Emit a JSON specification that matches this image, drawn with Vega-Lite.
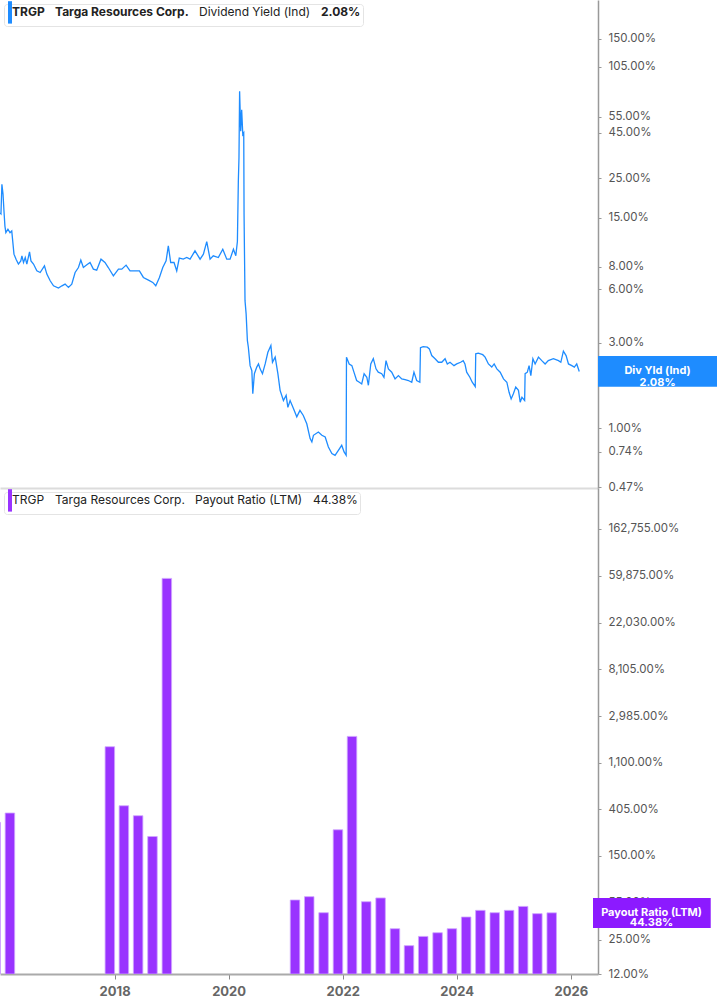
{
  "$schema": "https://vega.github.io/schema/vega-lite/v6.json",
  "background": "white",
  "padding": 0,
  "spacing": 0,
  "bounds": "flush",
  "config": {
    "view": {"stroke": null},
    "font": "Inter",
    "legend": {
      "orient": "top-left",
      "offset": 4,
      "direction": "horizontal",
      "columns": 4,
      "title": null,
      "fillColor": "white",
      "strokeColor": "#e4e4e4",
      "cornerRadius": 3,
      "padding": 2,
      "columnPadding": 4,
      "labelOffset": -6,
      "labelFont": "Inter",
      "labelFontSize": 12,
      "labelColor": "#222222",
      "labelLimit": 600,
      "symbolType": "M-1,-2.8H0V2.8H-1Z",
      "symbolSize": 64,
      "symbolStrokeWidth": 0
    },
    "axisY": {
      "orient": "right",
      "title": null,
      "grid": false,
      "domainColor": "#999999",
      "domainWidth": 1.5,
      "tickSize": 3,
      "tickColor": "#999999",
      "labelPadding": 7,
      "labelFontSize": 11.5,
      "labelColor": "#555555",
      "labelFont": "Inter",
      "labelOverlap": false
    }
  },
  "resolve": {
    "scale": {"x": "independent", "y": "independent", "color": "independent"},
    "axis": {"x": "independent", "y": "independent"},
    "legend": {"color": "independent"}
  },
  "vconcat": [
    {
      "width": 598,
      "height": 488,
      "data": {
        "values": [
          {"date": "2016-01-30", "v": 16.0},
          {"date": "2016-02-05", "v": 15.8},
          {"date": "2016-02-11", "v": 23.1},
          {"date": "2016-02-18", "v": 20.4},
          {"date": "2016-02-24", "v": 16.4},
          {"date": "2016-03-01", "v": 13.5},
          {"date": "2016-03-07", "v": 12.4},
          {"date": "2016-03-20", "v": 12.96},
          {"date": "2016-04-02", "v": 12.4},
          {"date": "2016-04-13", "v": 12.68},
          {"date": "2016-04-19", "v": 11.16},
          {"date": "2016-04-27", "v": 9.41},
          {"date": "2016-05-10", "v": 8.82},
          {"date": "2016-05-25", "v": 8.28},
          {"date": "2016-06-09", "v": 8.63},
          {"date": "2016-06-16", "v": 9.21},
          {"date": "2016-06-26", "v": 8.45},
          {"date": "2016-07-07", "v": 9.01},
          {"date": "2016-07-17", "v": 8.28},
          {"date": "2016-08-03", "v": 9.69},
          {"date": "2016-08-12", "v": 8.63},
          {"date": "2016-08-28", "v": 8.28},
          {"date": "2016-09-18", "v": 7.59},
          {"date": "2016-10-09", "v": 7.43},
          {"date": "2016-11-05", "v": 8.09},
          {"date": "2016-11-20", "v": 7.28},
          {"date": "2016-12-11", "v": 6.68},
          {"date": "2017-01-01", "v": 6.26},
          {"date": "2017-02-01", "v": 6.08},
          {"date": "2017-02-23", "v": 6.26},
          {"date": "2017-03-15", "v": 6.40},
          {"date": "2017-04-05", "v": 6.13},
          {"date": "2017-04-26", "v": 6.40},
          {"date": "2017-05-17", "v": 7.43},
          {"date": "2017-06-07", "v": 7.92},
          {"date": "2017-06-22", "v": 8.71},
          {"date": "2017-07-08", "v": 7.92},
          {"date": "2017-07-30", "v": 8.20},
          {"date": "2017-08-19", "v": 8.45},
          {"date": "2017-09-09", "v": 7.76},
          {"date": "2017-09-30", "v": 7.66},
          {"date": "2017-10-27", "v": 8.82},
          {"date": "2017-11-21", "v": 8.45},
          {"date": "2017-12-12", "v": 7.92},
          {"date": "2018-01-13", "v": 7.12},
          {"date": "2018-02-14", "v": 7.76},
          {"date": "2018-03-07", "v": 7.76},
          {"date": "2018-04-03", "v": 8.17},
          {"date": "2018-04-28", "v": 7.59},
          {"date": "2018-05-30", "v": 7.59},
          {"date": "2018-06-26", "v": 7.59},
          {"date": "2018-07-21", "v": 6.97},
          {"date": "2018-08-22", "v": 6.74},
          {"date": "2018-09-18", "v": 6.54},
          {"date": "2018-10-07", "v": 6.26},
          {"date": "2018-10-30", "v": 6.97},
          {"date": "2018-11-20", "v": 7.92},
          {"date": "2018-12-11", "v": 8.63},
          {"date": "2018-12-25", "v": 10.46},
          {"date": "2019-01-09", "v": 8.45},
          {"date": "2019-01-30", "v": 8.45},
          {"date": "2019-02-16", "v": 7.59},
          {"date": "2019-03-04", "v": 8.94},
          {"date": "2019-03-29", "v": 8.82},
          {"date": "2019-04-20", "v": 9.01},
          {"date": "2019-05-11", "v": 8.82},
          {"date": "2019-06-11", "v": 9.82},
          {"date": "2019-07-13", "v": 8.82},
          {"date": "2019-08-03", "v": 9.41},
          {"date": "2019-08-24", "v": 11.06},
          {"date": "2019-09-14", "v": 8.82},
          {"date": "2019-10-04", "v": 9.21},
          {"date": "2019-11-05", "v": 9.01},
          {"date": "2019-12-03", "v": 10.03},
          {"date": "2019-12-28", "v": 8.82},
          {"date": "2020-01-18", "v": 8.82},
          {"date": "2020-02-08", "v": 10.03},
          {"date": "2020-02-23", "v": 9.21},
          {"date": "2020-03-04", "v": 11.06},
          {"date": "2020-03-10", "v": 24.1},
          {"date": "2020-03-14", "v": 32.5},
          {"date": "2020-03-18", "v": 76.5},
          {"date": "2020-03-25", "v": 45.8},
          {"date": "2020-03-31", "v": 60.4},
          {"date": "2020-04-07", "v": 43.9},
          {"date": "2020-04-13", "v": 44.8},
          {"date": "2020-04-15", "v": 15.7},
          {"date": "2020-04-21", "v": 5.17},
          {"date": "2020-04-28", "v": 4.36},
          {"date": "2020-05-06", "v": 3.09},
          {"date": "2020-05-12", "v": 2.84},
          {"date": "2020-05-23", "v": 2.24},
          {"date": "2020-06-03", "v": 2.10},
          {"date": "2020-06-09", "v": 1.56},
          {"date": "2020-06-19", "v": 2.02},
          {"date": "2020-07-04", "v": 2.20},
          {"date": "2020-07-15", "v": 2.29},
          {"date": "2020-07-25", "v": 2.15},
          {"date": "2020-08-09", "v": 2.02},
          {"date": "2020-08-26", "v": 2.29},
          {"date": "2020-09-12", "v": 2.66},
          {"date": "2020-10-01", "v": 2.90},
          {"date": "2020-10-11", "v": 2.34},
          {"date": "2020-10-28", "v": 2.50},
          {"date": "2020-11-14", "v": 2.02},
          {"date": "2020-11-28", "v": 1.63},
          {"date": "2020-12-19", "v": 1.43},
          {"date": "2021-01-05", "v": 1.53},
          {"date": "2021-01-16", "v": 1.31},
          {"date": "2021-01-30", "v": 1.43},
          {"date": "2021-02-20", "v": 1.29},
          {"date": "2021-03-13", "v": 1.16},
          {"date": "2021-04-02", "v": 1.26},
          {"date": "2021-04-23", "v": 1.18},
          {"date": "2021-05-15", "v": 1.06},
          {"date": "2021-06-05", "v": 0.876},
          {"date": "2021-06-16", "v": 0.839},
          {"date": "2021-06-26", "v": 0.914},
          {"date": "2021-07-27", "v": 0.954},
          {"date": "2021-08-18", "v": 0.914},
          {"date": "2021-09-08", "v": 0.894},
          {"date": "2021-09-28", "v": 0.787},
          {"date": "2021-10-20", "v": 0.723},
          {"date": "2021-11-09", "v": 0.707},
          {"date": "2021-11-30", "v": 0.754},
          {"date": "2021-12-21", "v": 0.804},
          {"date": "2022-01-05", "v": 0.738},
          {"date": "2022-01-18", "v": 0.707},
          {"date": "2022-01-20", "v": 2.50},
          {"date": "2022-02-06", "v": 2.29},
          {"date": "2022-02-23", "v": 2.24},
          {"date": "2022-03-08", "v": 2.06},
          {"date": "2022-03-25", "v": 1.85},
          {"date": "2022-04-11", "v": 1.81},
          {"date": "2022-04-26", "v": 1.77},
          {"date": "2022-05-11", "v": 2.02},
          {"date": "2022-05-28", "v": 1.93},
          {"date": "2022-06-07", "v": 1.74},
          {"date": "2022-06-22", "v": 2.29},
          {"date": "2022-07-08", "v": 2.45},
          {"date": "2022-07-25", "v": 2.15},
          {"date": "2022-08-08", "v": 2.06},
          {"date": "2022-08-30", "v": 2.02},
          {"date": "2022-09-13", "v": 1.93},
          {"date": "2022-09-26", "v": 2.39},
          {"date": "2022-10-11", "v": 2.15},
          {"date": "2022-11-01", "v": 2.06},
          {"date": "2022-11-22", "v": 1.89},
          {"date": "2022-12-13", "v": 1.97},
          {"date": "2023-01-03", "v": 1.89},
          {"date": "2023-01-24", "v": 1.87},
          {"date": "2023-02-14", "v": 1.85},
          {"date": "2023-03-07", "v": 1.81},
          {"date": "2023-03-21", "v": 2.06},
          {"date": "2023-04-07", "v": 1.85},
          {"date": "2023-04-27", "v": 1.81},
          {"date": "2023-05-01", "v": 2.82},
          {"date": "2023-05-18", "v": 2.86},
          {"date": "2023-06-13", "v": 2.84},
          {"date": "2023-06-26", "v": 2.78},
          {"date": "2023-07-11", "v": 2.55},
          {"date": "2023-08-01", "v": 2.45},
          {"date": "2023-08-22", "v": 2.34},
          {"date": "2023-09-12", "v": 2.34},
          {"date": "2023-10-03", "v": 2.45},
          {"date": "2023-10-17", "v": 2.29},
          {"date": "2023-11-03", "v": 2.34},
          {"date": "2023-11-28", "v": 2.24},
          {"date": "2023-12-15", "v": 2.29},
          {"date": "2024-01-09", "v": 2.34},
          {"date": "2024-01-25", "v": 2.39},
          {"date": "2024-02-05", "v": 2.29},
          {"date": "2024-02-16", "v": 2.06},
          {"date": "2024-03-07", "v": 1.93},
          {"date": "2024-03-22", "v": 1.81},
          {"date": "2024-04-10", "v": 1.71},
          {"date": "2024-04-13", "v": 2.61},
          {"date": "2024-04-29", "v": 2.63},
          {"date": "2024-05-27", "v": 2.58},
          {"date": "2024-06-11", "v": 2.50},
          {"date": "2024-07-02", "v": 2.29},
          {"date": "2024-07-23", "v": 2.20},
          {"date": "2024-08-07", "v": 2.29},
          {"date": "2024-08-24", "v": 2.15},
          {"date": "2024-09-14", "v": 2.06},
          {"date": "2024-10-05", "v": 1.89},
          {"date": "2024-10-26", "v": 1.81},
          {"date": "2024-11-09", "v": 1.59},
          {"date": "2024-11-22", "v": 1.46},
          {"date": "2024-12-06", "v": 1.56},
          {"date": "2024-12-21", "v": 1.70},
          {"date": "2025-01-07", "v": 1.63},
          {"date": "2025-01-18", "v": 1.40},
          {"date": "2025-01-29", "v": 1.49},
          {"date": "2025-02-15", "v": 1.43},
          {"date": "2025-02-18", "v": 2.02},
          {"date": "2025-03-04", "v": 2.06},
          {"date": "2025-03-15", "v": 2.24},
          {"date": "2025-03-26", "v": 1.97},
          {"date": "2025-04-08", "v": 2.45},
          {"date": "2025-04-22", "v": 2.29},
          {"date": "2025-05-13", "v": 2.50},
          {"date": "2025-06-03", "v": 2.39},
          {"date": "2025-06-24", "v": 2.29},
          {"date": "2025-07-14", "v": 2.39},
          {"date": "2025-08-15", "v": 2.45},
          {"date": "2025-09-16", "v": 2.39},
          {"date": "2025-10-01", "v": 2.34},
          {"date": "2025-10-17", "v": 2.70},
          {"date": "2025-11-03", "v": 2.55},
          {"date": "2025-11-18", "v": 2.29},
          {"date": "2025-12-09", "v": 2.24},
          {"date": "2025-12-25", "v": 2.20},
          {"date": "2026-01-09", "v": 2.29},
          {"date": "2026-01-25", "v": 2.08}
        ]
      },
      "layer": [
        {
          "mark": {"type": "line", "strokeWidth": 1.3, "clip": true},
          "encoding": {
            "x": {
              "field": "date",
              "type": "temporal",
              "scale": {
                "type": "utc",
                "domain": [
                  {"year": 2016, "month": 1, "date": 30, "utc": true},
                  {"year": 2026, "month": 5, "date": 23, "utc": true}
                ]
              },
              "axis": {
                "orient": "bottom",
                "title": null,
                "labels": false,
                "ticks": false,
                "grid": false,
                "domainColor": "#dcdcdc",
                "domainWidth": 2
              }
            },
            "y": {
              "field": "v",
              "type": "quantitative",
              "scale": {"type": "log", "domain": [0.464, 247.7], "nice": false},
              "axis": {
                "values": [150, 105, 55, 45, 25, 15, 8, 6, 3, 2, 1, 0.74, 0.47],
                "labelExpr": "format(datum.value, ',.2f') + '%'"
              }
            },
            "color": {
              "datum": "TRGP",
              "type": "nominal",
              "scale": {
                "domain": ["TRGP", "Targa Resources Corp.", "Dividend Yield (Ind)", "2.08%   "],
                "range": ["#1e8cff", "#1e8cff", "#1e8cff", "#1e8cff"]
              },
              "legend": {
                "symbolFillColor": "#1e8cff",
                "encode": {
                  "symbols": {"update": {"opacity": {"signal": "datum.value === 'TRGP' ? 1 : 0"}}},
                  "labels": {"update": {"fontWeight": {"signal": "datum.value === 'Dividend Yield (Ind)' ? 'normal' : 'bold'"}}}
                }
              }
            }
          }
        },
        {
          "data": {"values": [{"box": "top"}]},
          "mark": {"type": "rect", "color": "#1e8cff"},
          "encoding": {
            "x": {"datum": {"year": 2026, "month": 5, "date": 23, "utc": true}, "type": "temporal"},
            "x2": {"datum": {"year": 2028, "month": 6, "date": 15, "utc": true}},
            "y": {"datum": 2.535, "type": "quantitative"},
            "y2": {"datum": 1.708}
          }
        },
        {
          "data": {"values": [{"box": "top"}]},
          "mark": {
            "type": "text",
            "text": ["Div Yld (Ind)", "2.08%"],
            "color": "white",
            "font": "Inter",
            "fontWeight": "bold",
            "fontSize": 11,
            "lineHeight": 11.5,
            "align": "center",
            "baseline": "middle"
          },
          "encoding": {
            "x": {"datum": {"year": 2027, "month": 6, "date": 2, "utc": true}, "type": "temporal"},
            "y": {"datum": 2.08, "type": "quantitative"}
          }
        }
      ]
    },
    {
      "width": 598,
      "height": 486,
      "data": {
        "values": [
          {"date": "2016-01-01", "ratio": 306.9},
          {"date": "2016-04-01", "ratio": 375},
          {"date": "2018-01-01", "ratio": 1548},
          {"date": "2018-04-01", "ratio": 438},
          {"date": "2018-07-01", "ratio": 354},
          {"date": "2018-10-01", "ratio": 227},
          {"date": "2019-01-01", "ratio": 56600},
          {"date": "2021-04-01", "ratio": 58.4},
          {"date": "2021-07-01", "ratio": 62.7},
          {"date": "2021-10-01", "ratio": 44.5},
          {"date": "2022-01-01", "ratio": 262},
          {"date": "2022-04-01", "ratio": 1930},
          {"date": "2022-07-01", "ratio": 56.3},
          {"date": "2022-10-01", "ratio": 61.0},
          {"date": "2023-01-01", "ratio": 31.6},
          {"date": "2023-04-01", "ratio": 22.0},
          {"date": "2023-07-01", "ratio": 26.8},
          {"date": "2023-10-01", "ratio": 29.0},
          {"date": "2024-01-01", "ratio": 31.6},
          {"date": "2024-04-01", "ratio": 40.6},
          {"date": "2024-07-01", "ratio": 46.8},
          {"date": "2024-10-01", "ratio": 44.5},
          {"date": "2025-01-01", "ratio": 46.8},
          {"date": "2025-04-01", "ratio": 50.9},
          {"date": "2025-07-01", "ratio": 43.6},
          {"date": "2025-10-01", "ratio": 44.38}
        ]
      },
      "layer": [
        {
          "mark": {"type": "bar", "width": 9.5, "xOffset": -4.75, "clip": true, "stroke": "#cfa6ff", "strokeWidth": 0.8},
          "encoding": {
            "x": {
              "field": "date",
              "type": "temporal",
              "scale": {
                "type": "utc",
                "domain": [
                  {"year": 2016, "month": 1, "date": 30, "utc": true},
                  {"year": 2026, "month": 5, "date": 23, "utc": true}
                ]
              },
              "axis": {
                "orient": "bottom",
                "title": null,
                "grid": false,
                "values": [
                  {"year": 2018, "utc": true},
                  {"year": 2020, "utc": true},
                  {"year": 2022, "utc": true},
                  {"year": 2024, "utc": true},
                  {"year": 2026, "utc": true}
                ],
                "format": "%Y",
                "labelFlush": false,
                "labelFont": "Inter",
                "labelFontWeight": "bold",
                "labelFontSize": 13,
                "labelColor": "#666666",
                "labelPadding": 6,
                "tickSize": 5,
                "tickColor": "#888888",
                "domainColor": "#aaaaaa",
                "domainWidth": 2
              }
            },
            "y": {
              "field": "ratio",
              "type": "quantitative",
              "scale": {"type": "log", "domain": [12, 391000], "nice": false},
              "axis": {
                "values": [162755, 59875, 22030, 8105, 2985, 1100, 405, 150, 55, 25, 12],
                "labelExpr": "format(datum.value, ',.2f') + '%'"
              }
            },
            "y2": {"datum": 12},
            "color": {
              "datum": "TRGP",
              "type": "nominal",
              "scale": {
                "domain": ["TRGP", "Targa Resources Corp.", "Payout Ratio (LTM)", "44.38%   "],
                "range": ["#9933ff", "transparent", "transparent", "transparent"]
              },
              "legend": {
                "encode": {
                  "symbols": {"update": {"strokeWidth": {"value": 0}, "opacity": {"signal": "datum.value === 'TRGP' ? 1 : 0"}}},
                  "labels": {"update": {"fontWeight": {"signal": "datum.value === 'Payout Ratio (LTM)' ? 'normal' : 'bold'"}}}
                }
              }
            }
          }
        },
        {
          "data": {"values": [{"box": "bottom"}]},
          "mark": {"type": "rect", "color": "#8c1aff"},
          "encoding": {
            "x": {"datum": {"year": 2026, "month": 5, "date": 23, "utc": true}, "type": "temporal"},
            "x2": {"datum": {"year": 2028, "month": 6, "date": 15, "utc": true}},
            "y": {"datum": 61.0, "type": "quantitative"},
            "y2": {"datum": 32.1}
          }
        },
        {
          "data": {"values": [{"box": "bottom"}]},
          "mark": {
            "type": "text",
            "text": ["Payout Ratio (LTM)", "44.38%"],
            "color": "white",
            "font": "Inter",
            "fontWeight": "bold",
            "fontSize": 11,
            "lineHeight": 10.5,
            "align": "center",
            "baseline": "middle"
          },
          "encoding": {
            "x": {"datum": {"year": 2027, "month": 6, "date": 2, "utc": true}, "type": "temporal"},
            "y": {"datum": 44.38, "type": "quantitative"}
          }
        }
      ]
    }
  ]
}
